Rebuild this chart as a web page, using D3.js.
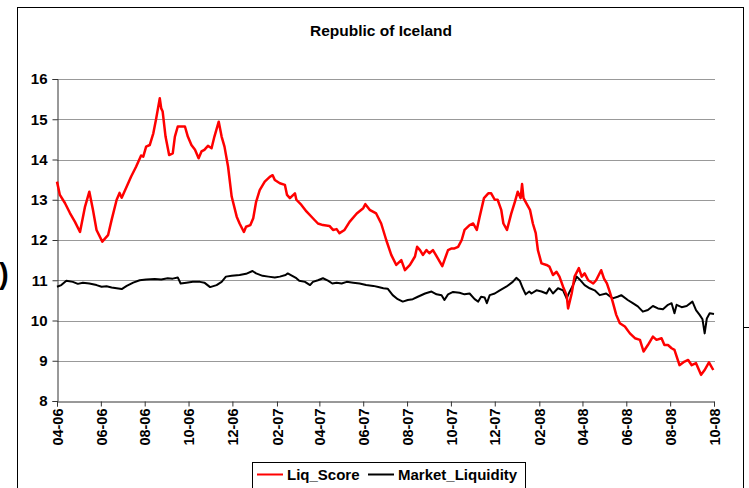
<!doctype html>
<html>
<head>
  <meta charset="utf-8">
  <title>Republic of Iceland</title>
  <script src="https://cdnjs.cloudflare.com/ajax/libs/d3/7.8.5/d3.min.js"></script>
  <style>
    body { margin: 0; background: #fff; }
    text { font-family: "Liberation Sans", Arial, sans-serif; font-weight: bold; fill: #000; }
  </style>
</head>
<body>
  <div id="chart"></div>
  <script>
    // == data ==
    const liqDates = [
      "2006-04-01","2006-04-05","2006-04-12","2006-04-19","2006-04-26","2006-05-03","2006-05-10","2006-05-16",
      "2006-05-21","2006-05-26","2006-06-03","2006-06-11","2006-06-16","2006-06-23","2006-06-27","2006-06-30",
      "2006-07-07","2006-07-13","2006-07-20","2006-07-27","2006-07-30","2006-08-03","2006-08-08","2006-08-13",
      "2006-08-17","2006-08-22","2006-08-24","2006-08-26","2006-08-30","2006-09-04","2006-09-09","2006-09-12",
      "2006-09-16","2006-09-26","2006-09-30","2006-10-05","2006-10-10","2006-10-15","2006-10-19","2006-10-23",
      "2006-10-28","2006-11-02","2006-11-06","2006-11-12","2006-11-16","2006-11-20","2006-11-25","2006-11-30",
      "2006-12-07","2006-12-11","2006-12-17","2006-12-20","2006-12-26","2006-12-30","2007-01-03","2007-01-08",
      "2007-01-15","2007-01-22","2007-01-26","2007-01-29","2007-02-05","2007-02-12","2007-02-15","2007-02-19",
      "2007-02-26","2007-02-28","2007-03-07","2007-03-14","2007-03-23","2007-03-30","2007-04-06","2007-04-15",
      "2007-04-20","2007-04-25","2007-04-29","2007-05-06","2007-05-13","2007-05-23","2007-06-01","2007-06-04",
      "2007-06-10","2007-06-19","2007-06-26","2007-07-03","2007-07-10","2007-07-17","2007-07-24","2007-07-29",
      "2007-08-05","2007-08-12","2007-08-15","2007-08-19","2007-08-23","2007-08-28","2007-09-01","2007-09-06",
      "2007-09-13","2007-09-19","2007-09-22","2007-09-27","2007-10-02","2007-10-06","2007-10-11","2007-10-16",
      "2007-10-20","2007-10-27","2007-11-01","2007-11-06","2007-11-10","2007-11-16","2007-11-22","2007-11-26",
      "2007-12-01","2007-12-05","2007-12-10","2007-12-13","2007-12-18","2007-12-24","2007-12-29","2008-01-02",
      "2008-01-06","2008-01-08","2008-01-10","2008-01-14","2008-01-19","2008-01-23","2008-01-27","2008-01-30",
      "2008-02-04","2008-02-11","2008-02-15","2008-02-20","2008-02-25","2008-02-29","2008-03-05","2008-03-10",
      "2008-03-12","2008-03-17","2008-03-21","2008-03-27","2008-03-31","2008-04-04","2008-04-09","2008-04-16",
      "2008-04-20","2008-04-27","2008-05-01","2008-05-05","2008-05-09","2008-05-13","2008-05-18","2008-05-23",
      "2008-05-30","2008-06-06","2008-06-13","2008-06-20","2008-06-25","2008-07-01","2008-07-08","2008-07-13",
      "2008-07-20","2008-07-24","2008-07-29","2008-08-03","2008-08-07","2008-08-14","2008-08-21","2008-08-26",
      "2008-08-31","2008-09-06","2008-09-13","2008-09-18","2008-09-24","2008-09-30"
    ];
    const liqScore = [
      13.45,13.12,12.92,12.67,12.45,12.2,12.83,13.2,
      12.75,12.25,11.96,12.12,12.5,13.0,13.17,13.05,
      13.33,13.57,13.82,14.1,14.07,14.32,14.36,14.65,
      15.02,15.52,15.27,15.19,14.57,14.11,14.15,14.57,
      14.82,14.82,14.57,14.36,14.24,14.03,14.2,14.24,
      14.34,14.28,14.57,14.94,14.57,14.32,13.82,13.08,
      12.58,12.41,12.2,12.33,12.37,12.54,12.95,13.24,
      13.45,13.57,13.61,13.49,13.41,13.37,13.12,13.04,
      13.16,13.0,12.87,12.71,12.54,12.41,12.37,12.35,
      12.25,12.27,12.17,12.25,12.45,12.66,12.79,12.89,
      12.75,12.66,12.41,12.0,11.63,11.38,11.5,11.25,
      11.38,11.59,11.83,11.75,11.63,11.75,11.67,11.75,
      11.54,11.35,11.5,11.75,11.79,11.79,11.83,12.0,
      12.25,12.37,12.41,12.25,12.58,13.04,13.16,13.16,
      13.0,13.0,12.75,12.41,12.25,12.66,12.95,13.2,
      13.04,13.39,13.04,12.91,12.75,12.41,12.17,11.75,
      11.42,11.38,11.34,11.13,11.21,11.09,10.84,10.63,
      10.3,10.67,11.09,11.3,11.09,11.17,11.0,10.92,
      11.0,11.25,11.04,10.92,10.71,10.47,10.14,9.93,
      9.85,9.68,9.56,9.52,9.23,9.39,9.6,9.52,
      9.56,9.39,9.39,9.31,9.27,8.89,8.98,9.02,
      8.89,8.94,8.65,8.77,8.96,8.77
    ];

    const mktDates = [
      "2006-04-01","2006-04-07","2006-04-14","2006-04-23","2006-04-30","2006-05-07","2006-05-16","2006-05-26",
      "2006-06-02","2006-06-09","2006-06-16","2006-06-23","2006-06-30","2006-07-07","2006-07-16","2006-07-25",
      "2006-08-03","2006-08-15","2006-08-24","2006-09-02","2006-09-09","2006-09-16","2006-09-20","2006-09-28",
      "2006-10-07","2006-10-17","2006-10-23","2006-10-31","2006-11-09","2006-11-16","2006-11-22","2006-11-30",
      "2006-12-11","2006-12-20","2006-12-29","2007-01-03","2007-01-12","2007-01-20","2007-01-29","2007-02-05",
      "2007-02-13","2007-02-16","2007-02-21","2007-02-28","2007-03-04","2007-03-12","2007-03-19","2007-03-23",
      "2007-03-30","2007-04-06","2007-04-13","2007-04-19","2007-04-25","2007-05-02","2007-05-09","2007-05-18",
      "2007-05-27","2007-06-05","2007-06-15","2007-06-22","2007-06-29","2007-07-05","2007-07-12","2007-07-19",
      "2007-07-26","2007-08-02","2007-08-09","2007-08-16","2007-08-26","2007-09-04","2007-09-11","2007-09-18",
      "2007-09-22","2007-09-27","2007-10-04","2007-10-13","2007-10-20","2007-10-27","2007-11-03","2007-11-08",
      "2007-11-12","2007-11-17","2007-11-20","2007-11-24","2007-12-01","2007-12-08","2007-12-17","2007-12-26",
      "2007-12-31","2008-01-05","2008-01-09","2008-01-13","2008-01-18","2008-01-21","2008-01-28","2008-02-04",
      "2008-02-11","2008-02-15","2008-02-20","2008-02-27","2008-03-05","2008-03-10","2008-03-14","2008-03-19",
      "2008-03-24","2008-03-28","2008-04-04","2008-04-11","2008-04-18","2008-04-25","2008-05-04","2008-05-13",
      "2008-05-20","2008-05-25","2008-06-03","2008-06-10","2008-06-17","2008-06-24","2008-07-01","2008-07-08",
      "2008-07-15","2008-07-22","2008-07-29","2008-08-03","2008-08-07","2008-08-10","2008-08-17","2008-08-24",
      "2008-09-01","2008-09-06","2008-09-11","2008-09-15","2008-09-18","2008-09-21","2008-09-25","2008-10-01"
    ];
    const mktLiquidity = [
      10.84,10.88,10.99,10.96,10.91,10.94,10.92,10.88,
      10.84,10.85,10.82,10.80,10.78,10.86,10.94,11.0,
      11.02,11.03,11.02,11.05,11.04,11.07,10.92,10.94,
      10.96,10.96,10.94,10.83,10.88,10.96,11.09,11.11,
      11.13,11.16,11.23,11.17,11.11,11.09,11.07,11.09,
      11.13,11.17,11.12,11.05,10.99,10.96,10.88,10.96,
      11.0,11.05,10.99,10.92,10.94,10.92,10.96,10.94,
      10.92,10.88,10.86,10.83,10.80,10.79,10.63,10.53,
      10.47,10.51,10.53,10.59,10.67,10.72,10.65,10.63,
      10.51,10.65,10.71,10.69,10.65,10.67,10.53,10.47,
      10.59,10.57,10.43,10.63,10.67,10.75,10.84,10.96,
      11.06,10.98,10.80,10.65,10.72,10.67,10.75,10.72,
      10.67,10.80,10.67,10.80,10.75,10.55,10.71,10.88,
      11.09,11.02,10.88,10.80,10.75,10.63,10.67,10.55,
      10.59,10.63,10.51,10.43,10.35,10.22,10.26,10.36,
      10.30,10.28,10.39,10.43,10.18,10.39,10.33,10.36,
      10.47,10.26,10.14,10.03,9.68,10.05,10.18,10.16
    ];

    const yTicks = [8, 9, 10, 11, 12, 13, 14, 15, 16];
    const xTickDates = [
      "2006-04-01","2006-06-01","2006-08-01","2006-10-01","2006-12-01","2007-02-01","2007-04-01","2007-06-01",
      "2007-08-01","2007-10-01","2007-12-01","2008-02-01","2008-04-01","2008-06-01","2008-08-01","2008-10-01"
    ];
    const seriesNames = ["Liq_Score", "Market_Liquidity"];
    const seriesColors = ["#ff0000", "#000000"];

    // == drawing ==
    const parse = d3.timeParse("%Y-%m-%d");
    const W = 749, H = 488;
    const plot = { left: 57, right: 714, top: 79, bottom: 401 };

    const svg = d3.select("#chart").append("svg")
      .attr("width", W).attr("height", H);

    svg.append("rect").attr("width", W).attr("height", H).attr("fill", "#fff");

    // chart frame (bottom runs off the picture)
    svg.append("rect")
      .attr("x", 17.5).attr("y", 7.5)
      .attr("width", 726).attr("height", 500)
      .attr("fill", "none").attr("stroke", "#000").attr("stroke-width", 1);
    svg.append("line")
      .attr("x1", 744).attr("x2", 749).attr("y1", 327.5).attr("y2", 327.5)
      .attr("stroke", "#000");

    // cut-off glyph at the left edge
    svg.append("text")
      .attr("x", -1).attr("y", 284)
      .style("font-size", "29px")
      .text(")");

    const x = d3.scaleTime()
      .domain([parse("2006-04-01"), parse("2008-10-01")])
      .range([plot.left, plot.right]);
    const y = d3.scaleLinear()
      .domain([8, 16])
      .range([plot.bottom, plot.top]);

    // title
    svg.append("text")
      .attr("x", 381).attr("y", 36)
      .attr("text-anchor", "middle")
      .style("font-size", "15.5px")
      .text("Republic of Iceland");

    // gridlines
    svg.append("g")
      .selectAll("line")
      .data(yTicks.slice(1))
      .join("line")
      .attr("x1", plot.left).attr("x2", plot.right + 1)
      .attr("y1", d => Math.round(y(d)) + 0.5).attr("y2", d => Math.round(y(d)) + 0.5)
      .attr("stroke", "#999").attr("stroke-width", 1);

    // y axis
    const yAxis = svg.append("g")
      .attr("transform", `translate(${plot.left + 0.5},0)`)
      .call(d3.axisLeft(y).tickValues(yTicks).tickSize(5).tickPadding(5).tickFormat(d3.format("d")));
    yAxis.select(".domain").attr("stroke", "#333");
    yAxis.selectAll(".tick line").attr("stroke", "#333");
    yAxis.selectAll("text")
      .style("font-size", "15px")
      .attr("font-family", null);

    // x axis
    const xAxis = svg.append("g")
      .attr("transform", `translate(0,${plot.bottom + 0.5})`)
      .call(d3.axisBottom(x).tickValues(xTickDates.map(parse)).tickSize(5).tickFormat(d3.timeFormat("%m-%y")));
    xAxis.select(".domain").attr("stroke", "#333");
    xAxis.selectAll(".tick line").attr("stroke", "#333");
    xAxis.selectAll("text")
      .attr("font-family", null)
      .style("font-size", "14.5px")
      .attr("text-anchor", "end")
      .attr("transform", "rotate(-90)")
      .attr("x", -7).attr("y", 0).attr("dy", "0.36em");

    // lines
    const line = d3.line()
      .x(d => x(d[0]))
      .y(d => y(d[1]));

    const liqData = liqDates.map((d, i) => [parse(d), liqScore[i]]);
    const mktData = mktDates.map((d, i) => [parse(d), mktLiquidity[i]]);

    svg.append("path")
      .datum(mktData)
      .attr("d", line)
      .attr("fill", "none")
      .attr("stroke", seriesColors[1])
      .attr("stroke-width", 2)
      .attr("stroke-linejoin", "round");

    svg.append("path")
      .datum(liqData)
      .attr("d", line)
      .attr("fill", "none")
      .attr("stroke", seriesColors[0])
      .attr("stroke-width", 2.5)
      .attr("stroke-linejoin", "round");

    // legend
    const legend = svg.append("g");
    legend.append("rect")
      .attr("x", 252.5).attr("y", 462.5)
      .attr("width", 273).attr("height", 40)
      .attr("fill", "#fff").attr("stroke", "#000");

    const legendX = [257, 368];
    const items = legend.selectAll("g.item")
      .data(seriesNames)
      .join("g")
      .attr("class", "item")
      .attr("transform", (d, i) => `translate(${legendX[i]},0)`);
    items.append("line")
      .attr("x1", 0).attr("x2", 26)
      .attr("y1", 474.5).attr("y2", 474.5)
      .attr("stroke", (d, i) => seriesColors[i])
      .attr("stroke-width", 2);
    items.append("text")
      .attr("x", 30).attr("y", 480)
      .style("font-size", "15px")
      .text(d => d);
  </script>
</body>
</html>
